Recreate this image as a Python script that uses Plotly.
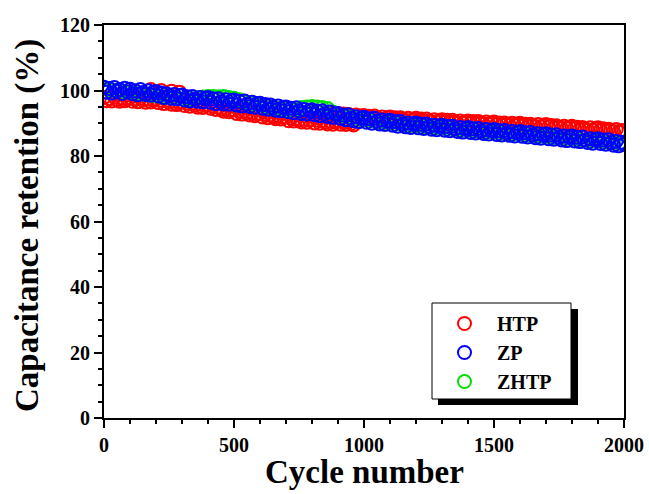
import plotly.graph_objects as go

# ---------------- data ----------------
zp_cycle = list(range(0, 2001, 10))
zp_value = [
    101.0, 99.5, 100.6, 99.2, 100.9, 99.8, 100.3, 99.1, 100.7, 99.6,
    100.4, 99.0, 99.9, 98.7, 100.3, 99.4, 98.8, 99.9, 98.6, 99.5,
    99.7, 98.3, 99.2, 97.9, 99.0, 98.4, 97.6, 98.8, 97.5, 98.5,
    98.6, 97.1, 98.1, 96.8, 98.2, 97.4, 96.7, 97.9, 96.6, 97.6,
    97.9, 96.4, 97.4, 96.0, 97.5, 96.6, 95.9, 97.2, 95.8, 96.9,
    97.1, 95.6, 96.7, 95.3, 96.8, 95.8, 95.1, 96.4, 94.9, 96.0,
    96.1, 94.6, 95.7, 94.3, 95.6, 94.8, 94.0, 95.3, 93.8, 94.9,
    95.0, 93.5, 94.6, 93.2, 94.7, 93.8, 93.0, 94.2, 92.8, 93.9,
    94.1, 92.6, 93.7, 92.3, 93.8, 92.9, 92.1, 93.4, 91.8, 92.9,
    93.0, 91.5, 92.5, 91.1, 92.6, 91.6, 90.8, 92.0, 90.5, 91.6,
    91.8, 90.3, 91.4, 90.0, 91.5, 90.6, 89.8, 91.0, 89.6, 90.7,
    90.9, 89.4, 90.5, 89.1, 90.5, 89.7, 88.9, 90.1, 88.7, 89.8,
    90.1, 88.6, 89.7, 88.4, 89.8, 89.0, 88.2, 89.4, 88.0, 89.1,
    89.4, 87.9, 89.0, 87.7, 89.1, 88.3, 87.5, 88.7, 87.3, 88.4,
    88.7, 87.2, 88.3, 87.0, 88.4, 87.6, 86.9, 88.1, 86.7, 87.8,
    88.1, 86.6, 87.7, 86.4, 87.8, 87.0, 86.3, 87.5, 86.1, 87.2,
    87.5, 86.0, 87.1, 85.8, 87.2, 86.4, 85.6, 86.8, 85.4, 86.5,
    86.8, 85.3, 86.4, 85.1, 86.5, 85.7, 84.9, 86.1, 84.7, 85.8,
    86.1, 84.6, 85.7, 84.4, 85.8, 84.9, 84.1, 85.3, 83.9, 85.0,
    85.3, 83.8, 84.9, 83.6, 85.0, 84.1, 83.3, 84.5, 83.1, 84.2,
    83.6,
]

htp_low_cycle = list(range(0, 961, 10))
htp_low_value = [
    97.9, 96.9, 97.6, 96.8, 98.0, 97.2, 96.7, 97.7, 96.9, 97.4,
    97.8, 96.7, 97.5, 96.6, 97.7, 97.0, 96.4, 97.4, 96.5, 97.1,
    97.4, 96.3, 97.0, 96.0, 97.1, 96.4, 95.8, 96.7, 95.7, 96.3,
    96.5, 95.4, 96.2, 95.2, 96.2, 95.5, 94.9, 95.8, 94.8, 95.4,
    95.6, 94.6, 95.2, 94.2, 95.0, 94.3, 93.7, 94.5, 93.5, 94.0,
    94.1, 93.0, 93.8, 92.8, 93.8, 93.1, 92.5, 93.3, 92.3, 92.9,
    93.0, 91.9, 92.7, 91.7, 92.6, 92.0, 91.4, 92.2, 91.3, 91.8,
    91.9, 90.8, 91.6, 90.7, 91.5, 90.9, 90.4, 91.2, 90.3, 90.9,
    91.2, 90.1, 90.9, 90.0, 90.9, 90.3, 89.8, 90.6, 89.7, 90.4,
    90.8, 89.7, 90.5, 89.6, 90.5, 89.9, 89.5,
]
htp_high_cycle = list(range(860, 2001, 10))
htp_high_value = [
    93.3, 92.6, 93.0, 92.5,
    93.0, 92.3, 92.8, 92.1, 92.7, 92.2, 91.8, 92.5, 91.7, 92.2,
    92.4, 91.7, 92.1, 91.5, 92.2, 91.7, 91.3, 91.9, 91.2, 91.7,
    91.9, 91.2, 91.7, 91.0, 91.7, 91.2, 90.8, 91.5, 90.8, 91.2,
    91.5, 90.8, 91.3, 90.6, 91.3, 90.8, 90.4, 91.1, 90.4, 90.8,
    91.1, 90.4, 90.9, 90.2, 90.9, 90.4, 90.0, 90.7, 90.0, 90.4,
    90.7, 90.0, 90.5, 89.8, 90.5, 90.1, 89.7, 90.4, 89.7, 90.1,
    90.4, 89.7, 90.1, 89.5, 90.1, 89.7, 89.3, 90.0, 89.3, 89.7,
    90.0, 89.3, 89.7, 89.1, 89.7, 89.3, 88.9, 89.6, 88.9, 89.3,
    89.6, 88.9, 89.3, 88.6, 89.2, 88.8, 88.4, 89.1, 88.4, 88.8,
    89.1, 88.4, 88.8, 88.1, 88.7, 88.3, 87.9, 88.6, 87.9, 88.3,
    88.6, 87.9, 88.3, 87.6, 88.2, 87.8, 87.4, 88.1, 87.4, 87.8,
    87.6,
]
htp_top_cycle = [180, 220, 260, 290]
htp_top_value = [100.3, 100.0, 99.8, 99.5]

zhtp_cycle = list(range(0, 2001, 20))
zhtp_value = [
    100.6, 100.3, 100.1, 99.9, 99.6,
    99.4, 99.2, 99.0, 98.8, 98.6,
    98.4, 98.2, 98.0, 97.8, 97.6,
    97.4, 97.3, 97.4, 97.8, 98.0,
    98.2, 98.2, 98.1, 98.2, 97.9,
    97.6, 97.2, 96.7, 96.2, 95.8,
    95.5, 95.2, 94.9, 94.6, 94.4,
    94.1, 94.0, 94.3, 94.8, 95.0,
    95.1, 95.0, 94.8, 94.5, 93.4,
    92.6, 92.2, 91.9, 91.6, 91.3,
    91.0, 90.8, 90.6, 90.4, 90.2,
    90.0, 89.8, 89.7, 89.5, 89.3,
    89.2, 89.0, 88.9, 88.7, 88.6,
    88.5, 88.3, 88.2, 88.0, 87.9,
    87.8, 87.7, 87.5, 87.4, 87.3,
    87.2, 87.1, 86.9, 86.8, 86.7,
    86.6, 86.4, 86.3, 86.2, 86.0,
    85.9, 85.8, 85.6, 85.5, 85.3,
    85.2, 85.0, 84.9, 84.7, 84.6,
    84.4, 84.3, 84.1, 84.0, 83.8,
    83.6,
]

x_ticks = [0, 500, 1000, 1500, 2000]
y_ticks = [0, 20, 40, 60, 80, 100, 120]

htp_cycle = htp_low_cycle + htp_high_cycle + htp_top_cycle
htp_value = htp_low_value + htp_high_value + htp_top_value

# ---------------- figure ----------------
FONT = "Liberation Serif"
W, H = 649, 494
ML, MR, MT, MB = 104, 25, 25, 76

def marker(color):
    return dict(symbol="circle-open", size=13, color=color, line=dict(width=2, color=color))

fig = go.Figure()
fig.add_trace(go.Scatter(x=htp_cycle, y=htp_value, mode="markers", name="HTP",
                         marker=marker("#ff0000"), legendrank=1))
fig.add_trace(go.Scatter(x=zhtp_cycle, y=zhtp_value, mode="markers", name="ZHTP",
                         marker=marker("#00e000"), legendrank=3))
fig.add_trace(go.Scatter(x=zp_cycle, y=zp_value, mode="markers", name="ZP",
                         marker=marker("#0000ff"), legendrank=2))

pw = W - ML - MR
ph = H - MT - MB
def px_x(p):
    return (p - ML) / pw
def px_y(p):
    return (H - MB - p) / ph

# legend frame with drop shadow
fig.add_shape(type="rect", xref="paper", yref="paper",
              x0=px_x(438), x1=px_x(578), y0=px_y(405), y1=px_y(309),
              fillcolor="black", line=dict(width=0), layer="above")
fig.add_shape(type="rect", xref="paper", yref="paper",
              x0=px_x(432), x1=px_x(571), y0=px_y(399), y1=px_y(303),
              fillcolor="white", line=dict(width=1, color="black"), layer="above")

# axis titles
fig.add_annotation(text="Cycle number", xref="paper", yref="paper",
                   x=px_x(364), y=px_y(472), xanchor="center", yanchor="middle",
                   showarrow=False, font=dict(family=FONT, size=33, color="black", weight="bold"))
fig.add_annotation(text="Capacitance retention (%)", xref="paper", yref="paper",
                   x=px_x(27), y=px_y(226), xanchor="center", yanchor="middle",
                   textangle=-90, showarrow=False,
                   font=dict(family=FONT, size=33, color="black", weight="bold"))

axis_common = dict(
    showgrid=False, zeroline=False, showline=True, linecolor="black", linewidth=2,
    mirror=True, ticks="outside", ticklen=8, tickwidth=1.5, tickcolor="black",
    tickfont=dict(family=FONT, size=20, color="black", weight="bold"),
)
fig.update_xaxes(range=[0, 2000], tickvals=x_ticks,
                 minor=dict(dtick=100, tick0=0, ticks="outside", ticklen=4, tickwidth=1.5, tickcolor="black"),
                 **axis_common)
fig.update_yaxes(range=[0, 120], tickvals=y_ticks,
                 minor=dict(dtick=5, tick0=0, ticks="outside", ticklen=4, tickwidth=1.5, tickcolor="black"),
                 **axis_common)

fig.update_layout(
    width=W, height=H,
    margin=dict(l=ML, r=MR, t=MT, b=MB, autoexpand=False),
    paper_bgcolor="white", plot_bgcolor="white",
    showlegend=True,
    legend=dict(x=px_x(432), y=px_y(304), xanchor="left", yanchor="top",
                bgcolor="rgba(0,0,0,0)", borderwidth=0,
                font=dict(family=FONT, size=20, color="black", weight="bold"),
                itemwidth=55, tracegroupgap=0),
)

fig.write_html("out.html")
